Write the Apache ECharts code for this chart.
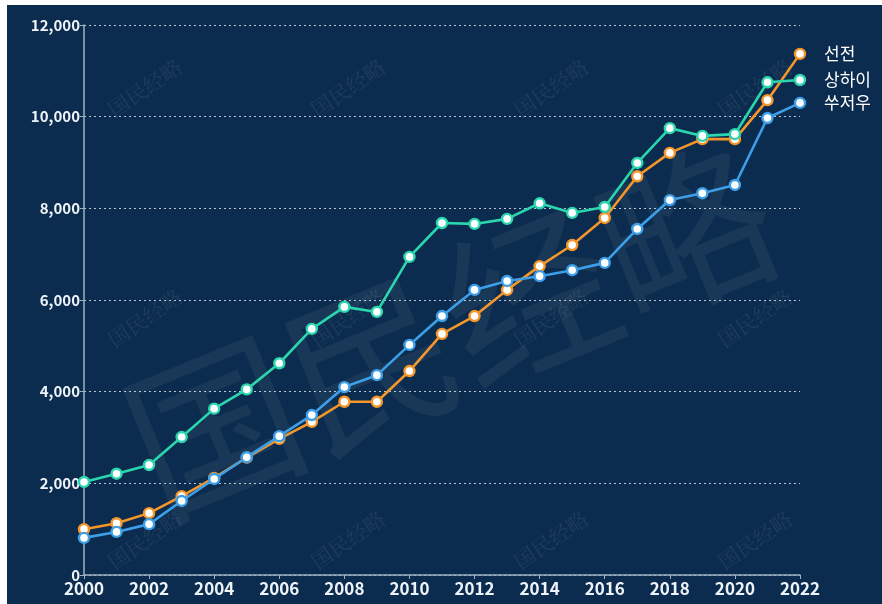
<!DOCTYPE html>
<html>
<head>
<meta charset="utf-8">
<script src="https://cdn.jsdelivr.net/npm/echarts@6/dist/echarts.min.js"></script>
<style>
html,body{margin:0;padding:0;background:#ffffff;width:882px;height:604px;overflow:hidden;}
#c{position:absolute;left:7px;top:5px;width:875px;height:599px;background:#0b2c4e;}
</style>
</head>
<body>
<div id="c"></div>
<script>
const years = ['2000','2001','2002','2003','2004','2005','2006','2007','2008','2009','2010','2011','2012','2013','2014','2015','2016','2017','2018','2019','2020','2021','2022'];
const shenzhen = [1000,1130,1350,1720,2120,2560,2970,3340,3780,3780,4450,5260,5650,6220,6740,7200,7790,8700,9210,9510,9510,10360,11370];
const shanghai = [2030,2210,2400,3010,3630,4050,4620,5370,5850,5740,6940,7680,7660,7770,8110,7900,8030,8990,9750,9580,9620,10750,10800];
const suzhou = [810,940,1110,1615,2095,2570,3030,3490,4100,4360,5020,5650,6220,6415,6520,6650,6810,7550,8180,8330,8510,9970,10300];
const seriesNames = ['선전','상하이','쑤저우'];

const OX = 7, OY = 5;
const wm = [];
const cols = [145, 348, 551, 755];
const rows = [88, 318, 540];
rows.forEach(r => cols.forEach(c => {
  wm.push({
    type: 'text', x: c - OX, y: r - OY, rotation: 0.6, z: 0,
    style: {text: '国民经略', fill: 'rgba(255,255,255,0.08)', font: '21px "Noto Serif CJK SC", "Noto Sans CJK SC"', textAlign: 'center', textVerticalAlign: 'middle'}
  });
}));
wm.push({
  type: 'text', x: 450 - OX, y: 330 - OY, rotation: 0.39, z: 0,
  style: {text: '国民经略', fill: 'rgba(255,255,255,0.06)', font: '170px "Noto Sans CJK SC"', textAlign: 'center', textVerticalAlign: 'middle'}
});

const font = '"Noto Sans CJK KR", "Noto Sans", sans-serif';
function mk(name, data, color, z) {
  return {
    name: name, type: 'line', data: data, z: z,
    symbol: 'circle', symbolSize: 10,
    lineStyle: {color: color, width: 2.6},
    itemStyle: {color: '#ffffff', borderColor: color, borderWidth: 2.4},
    endLabel: {show: true, formatter: '{a}', color: '#ffffff', fontSize: 17, fontFamily: font, distance: 24},
    emphasis: {disabled: true}
  };
}
const chart = echarts.init(document.getElementById('c'), null, {renderer: 'canvas'});
chart.setOption({
  backgroundColor: '#0b2c4e',
  animation: false,
  graphic: wm,
  grid: {left: 84 - OX, right: 82, top: 25 - OY, bottom: 29},
  xAxis: {
    type: 'category', data: years, boundaryGap: false,
    axisLine: {lineStyle: {color: '#9fb0c2', width: 1.5}},
    axisTick: {show: true, interval: 1, length: 4, lineStyle: {color: '#9fb0c2'}},
    axisLabel: {interval: 1, color: '#eef3f8', fontSize: 17, fontFamily: font, fontWeight: 'bold', margin: 5},
    splitLine: {show: false}
  },
  yAxis: {
    type: 'value', min: 0, max: 12000, interval: 2000,
    axisLine: {show: true, lineStyle: {color: '#9fb0c2', width: 1.5}},
    axisTick: {show: true, length: 4, lineStyle: {color: '#9fb0c2'}},
    axisLabel: {color: '#eef3f8', fontSize: 15, fontFamily: font, fontWeight: 'bold', margin: 4,
      formatter: v => v.toLocaleString('en-US')},
    splitLine: {show: true, lineStyle: {color: 'rgba(230,238,245,0.8)', type: [2, 3], width: 1.2}}
  },
  series: [
    mk(seriesNames[0], shenzhen, '#f5962a', 3),
    mk(seriesNames[1], shanghai, '#2bd6ae', 4),
    mk(seriesNames[2], suzhou, '#3c9fe8', 5)
  ]
});
</script>
</body>
</html>
